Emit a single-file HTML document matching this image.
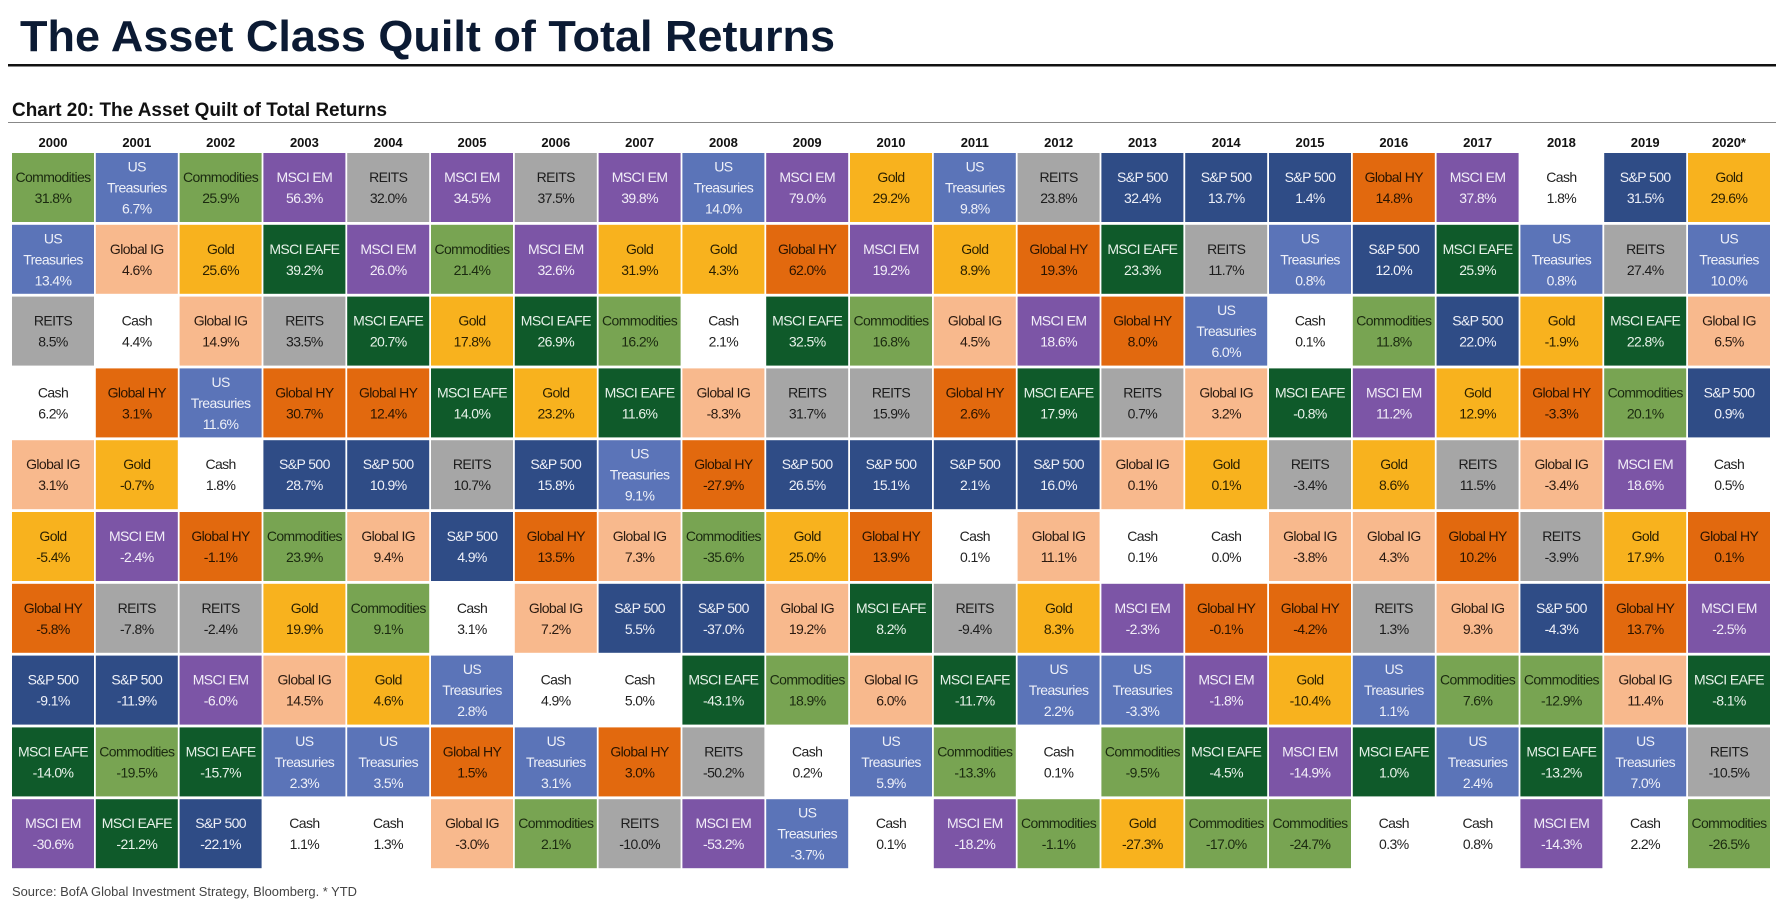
<!DOCTYPE html>
<html><head><meta charset="utf-8"><style>
body{margin:0;background:#fff;width:1776px;height:907px;overflow:hidden;font-family:"Liberation Sans",sans-serif;}
svg{display:block}
</style></head><body>
<svg id="chart" width="1776" height="907">
<text x="20" y="51" font-size="44" font-weight="bold" fill="#0b1a33" textLength="815" lengthAdjust="spacingAndGlyphs">The Asset Class Quilt of Total Returns</text>
<rect x="8" y="64" width="1768" height="2.5" fill="#111"/>
<text x="12" y="116" font-size="19" font-weight="bold" fill="#111" textLength="375" lengthAdjust="spacingAndGlyphs">Chart 20: The Asset Quilt of Total Returns</text>
<rect x="8" y="122" width="1768" height="1" fill="#888"/>
<g id="cells"></g>
<text x="12" y="896" font-size="13" fill="#444" textLength="345" lengthAdjust="spacingAndGlyphs">Source: BofA Global Investment Strategy, Bloomberg. * YTD</text>
</svg>
<script>
const years=["2000","2001","2002","2003","2004","2005","2006","2007","2008","2009","2010","2011","2012","2013","2014","2015","2016","2017","2018","2019","2020*"];
const assets=[
["CM","UST","RE","CA","IG","GO","HY","SP","EA","EM"],
["UST","IG","CA","HY","GO","EM","RE","SP","CM","EA"],
["CM","GO","IG","UST","CA","HY","RE","EM","EA","SP"],
["EM","EA","RE","HY","SP","CM","GO","IG","UST","CA"],
["RE","EM","EA","HY","SP","IG","CM","GO","UST","CA"],
["EM","CM","GO","EA","RE","SP","CA","UST","HY","IG"],
["RE","EM","EA","GO","SP","HY","IG","CA","UST","CM"],
["EM","GO","CM","EA","UST","IG","SP","CA","HY","RE"],
["UST","GO","CA","IG","HY","CM","SP","EA","RE","EM"],
["EM","HY","EA","RE","SP","GO","IG","CM","CA","UST"],
["GO","EM","CM","RE","SP","HY","EA","IG","UST","CA"],
["UST","GO","IG","HY","SP","CA","RE","EA","CM","EM"],
["RE","HY","EM","EA","SP","IG","GO","UST","CA","CM"],
["SP","EA","HY","RE","IG","CA","EM","UST","CM","GO"],
["SP","RE","UST","IG","GO","CA","HY","EM","EA","CM"],
["SP","UST","CA","EA","RE","IG","HY","GO","EM","CM"],
["HY","SP","CM","EM","GO","IG","RE","UST","EA","CA"],
["EM","EA","SP","GO","RE","HY","IG","CM","UST","CA"],
["CA","UST","GO","HY","IG","RE","SP","CM","EA","EM"],
["SP","RE","EA","CM","EM","GO","HY","IG","UST","CA"],
["GO","UST","IG","SP","CA","HY","EM","EA","RE","CM"]];
const returns=[
[31.8,13.4,8.5,6.2,3.1,-5.4,-5.8,-9.1,-14.0,-30.6],
[6.7,4.6,4.4,3.1,-0.7,-2.4,-7.8,-11.9,-19.5,-21.2],
[25.9,25.6,14.9,11.6,1.8,-1.1,-2.4,-6.0,-15.7,-22.1],
[56.3,39.2,33.5,30.7,28.7,23.9,19.9,14.5,2.3,1.1],
[32.0,26.0,20.7,12.4,10.9,9.4,9.1,4.6,3.5,1.3],
[34.5,21.4,17.8,14.0,10.7,4.9,3.1,2.8,1.5,-3.0],
[37.5,32.6,26.9,23.2,15.8,13.5,7.2,4.9,3.1,2.1],
[39.8,31.9,16.2,11.6,9.1,7.3,5.5,5.0,3.0,-10.0],
[14.0,4.3,2.1,-8.3,-27.9,-35.6,-37.0,-43.1,-50.2,-53.2],
[79.0,62.0,32.5,31.7,26.5,25.0,19.2,18.9,0.2,-3.7],
[29.2,19.2,16.8,15.9,15.1,13.9,8.2,6.0,5.9,0.1],
[9.8,8.9,4.5,2.6,2.1,0.1,-9.4,-11.7,-13.3,-18.2],
[23.8,19.3,18.6,17.9,16.0,11.1,8.3,2.2,0.1,-1.1],
[32.4,23.3,8.0,0.7,0.1,0.1,-2.3,-3.3,-9.5,-27.3],
[13.7,11.7,6.0,3.2,0.1,0.0,-0.1,-1.8,-4.5,-17.0],
[1.4,0.8,0.1,-0.8,-3.4,-3.8,-4.2,-10.4,-14.9,-24.7],
[14.8,12.0,11.8,11.2,8.6,4.3,1.3,1.1,1.0,0.3],
[37.8,25.9,22.0,12.9,11.5,10.2,9.3,7.6,2.4,0.8],
[1.8,0.8,-1.9,-3.3,-3.4,-3.9,-4.3,-12.9,-13.2,-14.3],
[31.5,27.4,22.8,20.1,18.6,17.9,13.7,11.4,7.0,2.2],
[29.6,10.0,6.5,0.9,0.5,0.1,-2.5,-8.1,-10.5,-26.5]];
const style={
CM:{n:["Commodities"],bg:"#78a452",fg:"#1b2a10"},
UST:{n:["US","Treasuries"],bg:"#5b74b8",fg:"#eef0f8"},
RE:{n:["REITS"],bg:"#a6a6a6",fg:"#1c1c1c"},
CA:{n:["Cash"],bg:"#ffffff",fg:"#222"},
IG:{n:["Global IG"],bg:"#f8b98d",fg:"#2a1a10"},
GO:{n:["Gold"],bg:"#f8b21e",fg:"#2a1f00"},
HY:{n:["Global HY"],bg:"#e2690e",fg:"#2a1400"},
SP:{n:["S&P 500"],bg:"#2f4c86",fg:"#eef0f8"},
EA:{n:["MSCI EAFE"],bg:"#0f5a2a",fg:"#e8f2ea"},
EM:{n:["MSCI EM"],bg:"#7c55a6",fg:"#f2eef8"}};
const NS="http://www.w3.org/2000/svg";
const g=document.getElementById('cells');
const x0=12,colW=83.8,cellW=82,y0=153,rowH=71.8,cellH=69;
function xPos(i){return x0+i*colW;}
function yPos(r){return y0+r*rowH;}
function mk(tag,attrs){const e=document.createElementNS(NS,tag);for(const k in attrs)e.setAttribute(k,attrs[k]);return e;}
years.forEach((yr,i)=>{
  const t=mk('text',{x:xPos(i)+cellW/2,y:147,'text-anchor':'middle','font-size':13,'font-weight':'bold',fill:'#111'});
  
  
  t.textContent=yr;g.appendChild(t);
  assets[i].forEach((a,r)=>{
    const s=style[a];
    const rc=mk('rect',{x:xPos(i),y:yPos(r),width:cellW,height:cellH,fill:s.bg});
    
    
    g.appendChild(rc);
    const lines=s.n.concat([returns[i][r].toFixed(1)+'%']);
    const lh=21,cy=yPos(r)+cellH/2,start=cy-(lines.length-1)*lh/2+5;
    lines.forEach((L,k)=>{
      const t=mk('text',{x:xPos(i)+cellW/2,y:start+k*lh,'text-anchor':'middle','font-size':14,fill:s.fg,'letter-spacing':'-0.6'});
      
      
      t.textContent=L;g.appendChild(t);
    });
  });
});
</script>
</body></html>
